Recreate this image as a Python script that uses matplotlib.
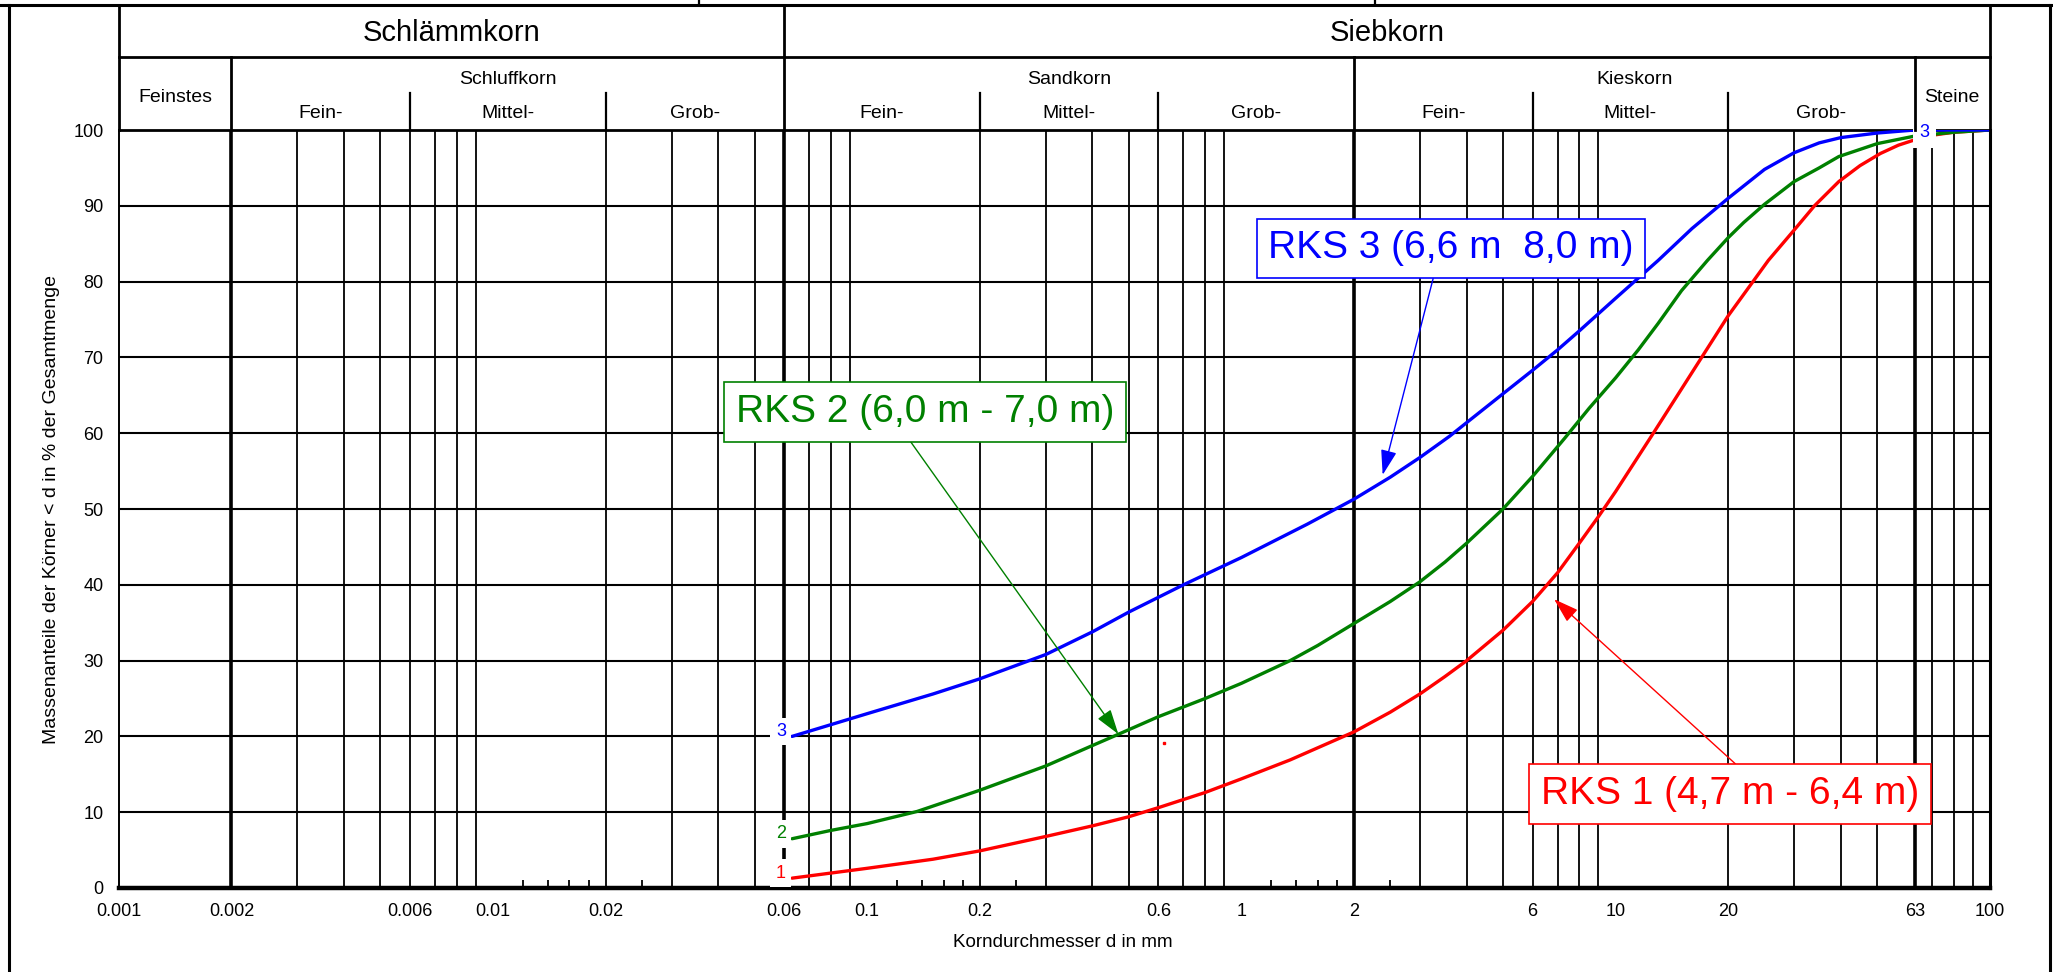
import numpy as np
import matplotlib
matplotlib.use('Agg')
import matplotlib.pyplot as plt
from matplotlib.lines import Line2D

plt.rcParams['font.family'] = ['Liberation Sans', 'DejaVu Sans']

# ---------------- data ----------------
rks1_d = [0.063, 0.1, 0.15, 0.2, 0.3, 0.4, 0.5, 0.6, 0.8, 1.0, 1.35, 1.6, 2.0, 2.5, 3.0, 3.5, 4.0,
          5.0, 6.0, 7.0, 8.0, 9.0, 10.0, 12.5, 16.0, 20.0, 25.6, 30.0, 34.0, 39.5, 45.0, 51.0,
          57.0, 63.0, 70.0, 80.0, 100.0]
rks1_p = [1.3, 2.6, 3.8, 4.9, 6.8, 8.2, 9.4, 10.6, 12.6, 14.4, 16.9, 18.5, 20.6, 23.2, 25.6, 27.9, 30.0,
          34.0, 37.8, 41.6, 45.5, 49.0, 52.3, 59.7, 68.0, 75.5, 82.8, 86.8, 90.0, 93.2, 95.3, 96.9,
          98.0, 98.7, 99.3, 99.7, 100.0]

rks2_d = [0.063, 0.08, 0.1, 0.136, 0.2, 0.3, 0.4, 0.47, 0.6, 0.8, 1.0, 1.35, 1.6, 2.0, 2.5, 3.0,
          3.5, 4.0, 5.0, 6.0, 7.3, 8.5, 10.0, 11.5, 13.0, 15.0, 17.6, 20.0, 22.0, 25.0, 30.0, 35.0,
          39.5, 50.0, 63.0, 80.0, 100.0]
rks2_p = [6.5, 7.6, 8.5, 10.1, 12.9, 16.1, 18.8, 20.3, 22.6, 25.0, 27.0, 30.0, 32.0, 34.9, 37.8, 40.4,
          43.0, 45.5, 50.0, 54.3, 59.3, 63.3, 67.3, 71.0, 74.5, 78.8, 82.8, 85.8, 87.8, 90.2, 93.2, 95.0,
          96.5, 98.2, 99.2, 99.7, 100.0]

rks3_d = [0.063, 0.1, 0.15, 0.2, 0.3, 0.4, 0.5, 0.7, 1.0, 1.5, 2.0, 2.5, 3.0, 3.6, 4.0, 5.0, 6.0,
          7.0, 8.0, 10.0, 13.0, 16.0, 20.0, 25.0, 30.0, 35.0, 40.0, 50.0, 63.0, 100.0]
rks3_p = [20.0, 23.0, 25.6, 27.6, 30.8, 33.8, 36.4, 40.0, 43.6, 48.0, 51.3, 54.2, 56.8, 59.6, 61.4, 65.2, 68.3,
          71.0, 73.5, 77.8, 82.8, 87.0, 91.0, 94.8, 97.0, 98.3, 99.0, 99.6, 100.0, 100.0]

series_names = ['RKS 1 (4,7 m - 6,4 m)', 'RKS 2 (6,0 m - 7,0 m)', 'RKS 3 (6,6 m  8,0 m)']
series_ids = ['1', '2', '3']
series_colors = ['#ff0000', '#008000', '#0000ff']

x_ticks = [0.001, 0.002, 0.006, 0.01, 0.02, 0.06, 0.1, 0.2, 0.6, 1, 2, 6, 10, 20, 63, 100]
x_tick_labels = ['0.001', '0.002', '0.006', '0.01', '0.02', '0.06', '0.1', '0.2', '0.6', '1', '2',
                 '6', '10', '20', '63', '100']
y_ticks = [0, 10, 20, 30, 40, 50, 60, 70, 80, 90, 100]

bold_lines = [0.002, 0.06, 2, 63]
short_ticks = [0.012, 0.014, 0.016, 0.018, 0.025,
               0.12, 0.14, 0.16, 0.18, 0.25,
               1.2, 1.4, 1.6, 1.8, 2.5]

# header: (label, left, right)
header_top = [('Schlämmkorn', 0.001, 0.06), ('Siebkorn', 0.06, 100)]
header_mid = [('Feinstes', 0.001, 0.002), ('Schluffkorn', 0.002, 0.06), ('Sandkorn', 0.06, 2),
              ('Kieskorn', 2, 63), ('Steine', 63, 100)]
header_sub = [('Fein-', 0.002, 0.006), ('Mittel-', 0.006, 0.02), ('Grob-', 0.02, 0.06),
              ('Fein-', 0.06, 0.2), ('Mittel-', 0.2, 0.6), ('Grob-', 0.6, 2),
              ('Fein-', 2, 6), ('Mittel-', 6, 20), ('Grob-', 20, 63)]

# ---------------- layout ----------------
W, H = 2053, 972
fig = plt.figure(figsize=(W / 100, H / 100), dpi=100)
fig.patch.set_facecolor('white')


def fx(px):
    return px / W


def fy(py):
    return 1 - py / H


L, R, B, T = 118.8, 1989.8, 888.0, 130.0
HT = 5.0  # header top (px)

ax = fig.add_axes([fx(L), fy(B), fx(R) - fx(L), fy(T) - fy(B)])
ax.set_xscale('log')
ax.set_xlim(0.001, 100)
ax.set_ylim(0, 100)

# vertical grid
grid_x = []
for e in range(-3, 2):
    for m in range(2, 10):
        v = m * 10.0 ** e
        if e == 1 and m == 6:
            v = 63.0
        grid_x.append(v)
for v in grid_x:
    isb = any(abs(v - b) / b < 1e-6 for b in bold_lines)
    ax.axvline(v, color='black', lw=2.6 if isb else 1.3, zorder=2)
for v in y_ticks[1:-1]:
    ax.axhline(v, color='black', lw=1.5, zorder=2)
ax.vlines(short_ticks, 0, 1.1, color='black', lw=1.3, zorder=2)

for sp in ['left', 'right', 'top', 'bottom']:
    ax.spines[sp].set_color('black')
ax.spines['bottom'].set_linewidth(3.2)
ax.spines['left'].set_linewidth(1.4)
ax.spines['right'].set_linewidth(2.2)
ax.spines['top'].set_linewidth(2.0)

ax.set_xticks(x_ticks)
ax.set_xticklabels(x_tick_labels)
ax.xaxis.set_minor_locator(matplotlib.ticker.NullLocator())
ax.set_yticks(y_ticks)
ax.tick_params(axis='both', length=0, labelsize=13)
ax.tick_params(axis='x', pad=11)
ax.tick_params(axis='y', pad=11)

# curves
data = [(rks1_d, rks1_p), (rks2_d, rks2_p), (rks3_d, rks3_p)]
for (d, p), c, sid in zip(data, series_colors, series_ids):
    ax.plot(d, p, color=c, lw=2.4, zorder=5, solid_capstyle='round', solid_joinstyle='round')
    ax.annotate(sid, xy=(d[0], p[0]), xytext=(-4.5, 3.5), textcoords='offset points',
                ha='right', va='center', color=c, fontsize=13, zorder=6,
                bbox=dict(boxstyle='square,pad=0.3', fc='white', ec='none'))

# end label "3"
ax.annotate(series_ids[2], xy=(rks3_d[-2], rks3_p[-2]), xytext=(3.5, -2), textcoords='offset points',
            ha='left', va='center', color=series_colors[2], fontsize=13, zorder=7,
            bbox=dict(boxstyle='square,pad=0.35', fc='white', ec='none'), annotation_clip=False)

# stray red dot
ax.plot([0.622], [19.1], marker='s', ms=1.5, color='#ff0000', zorder=5)

# annotation boxes with arrows
ann = [
    (series_names[0], (6.85, 38.1), (20.2, 12.4), series_colors[0], (0.55, 1.0)),
    (series_names[1], (0.469, 20.3), (0.1427, 62.8), series_colors[1], (0.44, 0.0)),
    (series_names[2], (2.385, 54.5), (3.63, 84.4), series_colors[2], (0.46, 0.0)),
]
for txt, tip, pos, c, rp in ann:
    ax.annotate(txt, xy=tip, xytext=pos, textcoords='data', ha='center', va='center',
                fontsize=28, color=c, zorder=8,
                bbox=dict(boxstyle='square,pad=0.3', fc='white', ec=c, lw=1.2),
                arrowprops=dict(arrowstyle='-|>,head_length=1.1,head_width=0.35', color=c,
                                lw=1.0, mutation_scale=14, relpos=rp, shrinkA=0, shrinkB=0))

# ---------------- header ----------------
hx = fig.add_axes([fx(L), fy(T), fx(R) - fx(L), fy(HT) - fy(T)])
hx.set_xscale('log')
hx.set_xlim(0.001, 100)
hx.set_ylim(0, 1)
hx.axis('off')
row_y = (T - 57) / (T - HT)
sub_y = (T - 93) / (T - HT)
kw = dict(color='black', clip_on=False)
hx.plot([0.001, 100], [row_y, row_y], lw=2.0, **kw)
for v in [0.001, 0.06, 100]:
    hx.plot([v, v], [0, 1], lw=2.0, **kw)
for v in [0.002, 2, 63]:
    hx.plot([v, v], [0, row_y], lw=2.0, **kw)
for v in [0.006, 0.02, 0.2, 0.6, 6, 20]:
    hx.plot([v, v], [0, sub_y], lw=1.6, **kw)


def gmid(a, b):
    return np.sqrt(a * b)


for lab, a, b in header_top:
    hx.text(gmid(a, b), (T - 33) / (T - HT), lab, ha='center', va='center', fontsize=21)
for lab, a, b in header_mid:
    yy = (T - 97) / (T - HT) if lab in ('Feinstes', 'Steine') else (T - 79) / (T - HT)
    hx.text(gmid(a, b), yy, lab, ha='center', va='center', fontsize=14)
for lab, a, b in header_sub:
    hx.text(gmid(a, b), (T - 114) / (T - HT), lab, ha='center', va='center', fontsize=14)

# ---------------- frame / labels ----------------
fig.add_artist(Line2D([0, 1], [fy(HT), fy(HT)], color='black', lw=2.2))
fig.add_artist(Line2D([fx(9), fx(9)], [0, fy(HT)], color='black', lw=2.2))
fig.add_artist(Line2D([fx(2050), fx(2050)], [0, fy(HT)], color='black', lw=2.2))
for px in [699, 1375]:
    fig.add_artist(Line2D([fx(px), fx(px)], [fy(0), fy(HT)], color='black', lw=1.6))

fig.text(fx(52), fy((T + B) / 2), 'Massenanteile der Körner < d in % der Gesamtmenge',
         rotation=90, ha='center', va='center', fontsize=14)
fig.text(fx(1063), fy(942), 'Korndurchmesser d in mm', ha='center', va='center', fontsize=13.5)

fig.savefig('out.png', dpi=100, facecolor='white')
